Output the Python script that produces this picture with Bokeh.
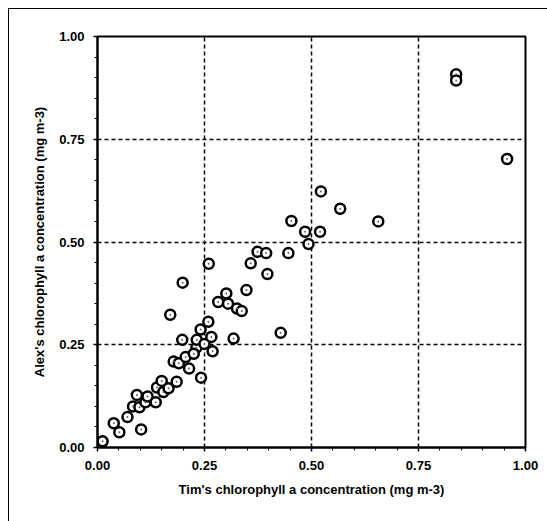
from bokeh.plotting import figure
from bokeh.embed import file_html
from bokeh.resources import INLINE
from bokeh.models import FixedTicker, NumeralTickFormatter, Range1d

# Tim's chlorophyll a concentration (mg m-3)
tim = [0.012, 0.038, 0.051, 0.070, 0.102, 0.083, 0.092, 0.098, 0.112, 0.117,
       0.136, 0.139, 0.150, 0.154, 0.166, 0.170, 0.178, 0.185, 0.190, 0.199,
       0.198, 0.206, 0.214, 0.231, 0.232, 0.241, 0.242, 0.250, 0.259, 0.266,
       0.269, 0.260, 0.282, 0.301, 0.305, 0.318, 0.326, 0.337, 0.348, 0.358,
       0.374, 0.394, 0.397, 0.428, 0.446, 0.453, 0.485, 0.493, 0.520, 0.522,
       0.567, 0.656, 0.838, 0.838, 0.957, 0.225]
# Alex's chlorophyll a concentration (mg m-3)
alex = [0.015, 0.059, 0.037, 0.074, 0.044, 0.100, 0.128, 0.098, 0.110, 0.124,
        0.110, 0.146, 0.162, 0.135, 0.144, 0.323, 0.209, 0.160, 0.205, 0.401,
        0.262, 0.220, 0.192, 0.243, 0.262, 0.287, 0.170, 0.252, 0.306, 0.269,
        0.234, 0.447, 0.354, 0.375, 0.350, 0.265, 0.338, 0.332, 0.383, 0.448,
        0.476, 0.473, 0.422, 0.279, 0.473, 0.551, 0.525, 0.495, 0.525, 0.623,
        0.581, 0.550, 0.908, 0.893, 0.702, 0.228]

major_ticks = [0.0, 0.25, 0.5, 0.75, 1.0]
minor_ticks = [i * 0.05 for i in range(21)]
x_title = "Tim's chlorophyll a concentration (mg m-3)"
y_title = "Alex's chlorophyll a concentration (mg m-3)"

p = figure(width=539, height=513, output_backend="svg", toolbar_location=None,
           x_range=Range1d(0, 1), y_range=Range1d(0, 1),
           min_border_left=88, min_border_right=23, min_border_top=27,
           min_border_bottom=75)
p.styles = {"margin-left": "8px", "margin-top": "8px",
            "border-left": "1.5px solid black", "border-top": "1.5px solid black",
            "box-sizing": "border-box"}
p.background_fill_color = "white"
p.border_fill_color = "white"
p.outline_line_color = "black"
p.outline_line_width = 2
p.outline_line_alpha = 1

for ax in (p.xaxis, p.yaxis):
    ax.ticker = FixedTicker(ticks=major_ticks, minor_ticks=minor_ticks)
    ax.formatter = NumeralTickFormatter(format="0.00")
    ax.axis_line_color = "black"
    ax.axis_line_width = 2
    ax.major_tick_line_color = "black"
    ax.major_tick_line_width = 1.5
    ax.major_tick_out = 4
    ax.major_tick_in = 0
    ax.minor_tick_line_color = "black"
    ax.minor_tick_line_width = 1
    ax.minor_tick_out = 3
    ax.minor_tick_in = 0
    ax.major_label_text_font = "Liberation Sans"
    ax.major_label_text_font_style = "bold"
    ax.major_label_text_font_size = "13px"
    ax.major_label_text_color = "black"
    ax.major_label_standoff = 9
    ax.axis_label_text_font = "Liberation Sans"
    ax.axis_label_text_font_style = "bold"
    ax.axis_label_text_font_size = "13px"
    ax.axis_label_text_color = "black"
    ax.axis_label_standoff = 9

p.xaxis.axis_label = x_title
p.yaxis.axis_label = y_title

for g in (p.xgrid, p.ygrid):
    g.ticker = FixedTicker(ticks=major_ticks[1:-1])
    g.grid_line_color = "black"
    g.grid_line_width = 1.5
    g.grid_line_dash = "4 3"

p.scatter(tim, alex, size=10, marker="circle", fill_color="white",
          line_color="black", line_width=2.5)
p.scatter(tim, alex, size=2, marker="circle", fill_color="#666666",
          line_color=None)

open("out.html", "w").write(file_html(p, INLINE))
